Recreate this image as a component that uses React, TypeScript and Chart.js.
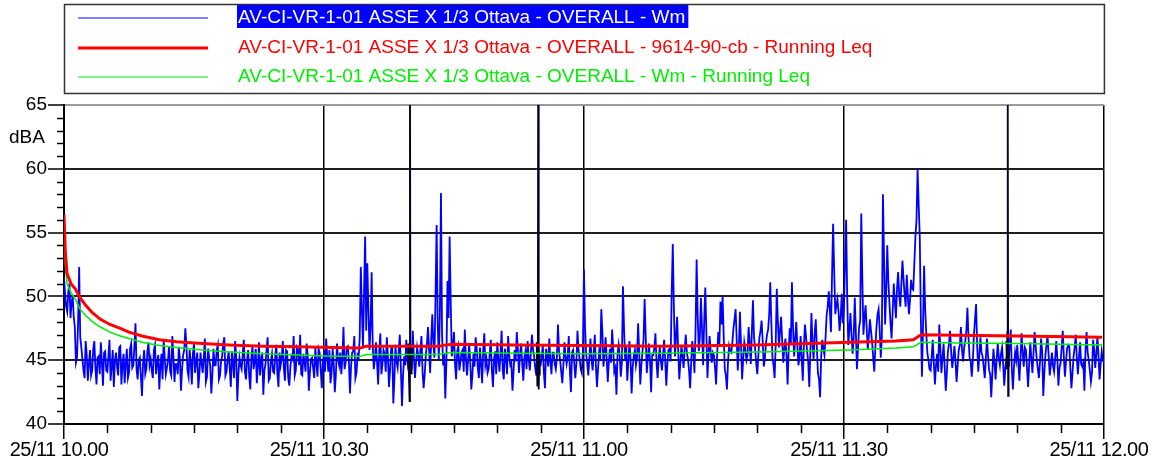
import React, { useEffect, useRef } from 'react';
import { Chart, registerables } from 'chart.js';

Chart.register(...registerables);

const FONT = '"Liberation Sans", Arial, Helvetica, sans-serif';

const seriesLabels = [
  'AV-CI-VR-1-01 ASSE X 1/3 Ottava - OVERALL - Wm',
  'AV-CI-VR-1-01 ASSE X 1/3 Ottava - OVERALL - 9614-90-cb - Running Leq',
  'AV-CI-VR-1-01 ASSE X 1/3 Ottava - OVERALL - Wm - Running Leq',
];
const seriesColors = ['#0000FF', '#FF0000', '#00EE00'];

const xTickLabels = ['25/11 10.00', '25/11 10.30', '25/11 11.00', '25/11 11.30', '25/11 12.00'];
const yUnit = 'dBA';

// Wm level, one value every 15 s (minutes 0..120)
const wmStepMinutes = 0.25;
const wmValues = [
  51.5, 49.2, 50.4, 48.3, 50.1, 47.6, 45.2, 52.3, 46.0, 44.2, 46.5, 43.4, 45.8, 44.2, 46.5, 43.1, 45.3, 46.4, 43.0, 45.7,
  44.1, 46.6, 44.5, 42.9, 45.6, 43.8, 46.1, 44.7, 43.2, 45.9, 44.0, 46.3, 44.6, 47.9, 43.5, 45.2, 42.2, 45.8, 44.3, 46.4,
  45.1, 43.6, 46.2, 44.8, 42.7, 45.5, 46.6, 43.9, 45.0, 44.1, 46.9, 43.3, 44.7, 46.0, 42.6, 45.4, 47.5, 44.2, 45.8, 43.1,
  46.3, 44.9, 42.8, 45.6, 44.0, 46.7, 43.7, 45.2, 42.4, 45.9, 44.6, 46.2, 43.8, 45.3, 46.8, 44.1, 45.7, 42.9, 44.8, 46.5,
  41.8, 45.2, 44.3, 46.6, 43.5, 45.8, 42.7, 46.1, 44.9, 43.2, 46.4, 45.0, 42.3, 44.7, 46.8, 43.6, 45.5, 44.0, 46.2, 42.9,
  44.6, 46.5, 43.4, 45.7, 43.0, 45.3, 46.9, 44.2, 45.8, 47.0, 43.8, 44.9, 46.3, 42.6, 45.1, 44.4, 46.0, 43.7, 45.6, 42.8,
  45.4, 46.7, 44.1, 43.2, 45.9, 42.5, 46.3, 44.6, 43.9, 47.6, 44.8, 46.1, 42.4, 45.6, 46.9, 44.0, 45.2, 52.3, 46.0, 54.7,
  52.6, 45.8, 51.9, 44.3, 46.4, 43.1, 47.1, 44.7, 45.5, 46.8, 42.9, 45.9, 41.6, 46.2, 44.4, 47.0, 41.4, 45.3, 46.6, 44.2,
  45.7, 47.3, 43.6, 46.0, 44.5, 46.9, 42.8, 45.4, 47.6, 44.0, 48.6, 45.2, 55.6, 45.1, 58.1, 44.6, 42.0, 51.2, 54.7, 45.3,
  47.2, 43.5, 46.1, 44.9, 45.8, 47.4, 43.8, 46.3, 42.7, 45.5, 46.8, 44.4, 46.0, 43.2, 47.1, 45.1, 44.3, 46.6, 42.9, 45.7,
  46.4, 44.1, 47.3, 43.5, 45.2, 46.9, 44.6, 42.6, 45.8, 47.2, 44.0, 46.3, 43.4, 45.7, 46.5, 44.2, 47.0, 45.3, 43.8, 45.9,
  44.6, 46.2, 42.8, 45.4, 46.7, 43.9, 45.6, 44.3, 47.8, 45.0, 43.2, 46.4, 44.7, 46.9, 42.5, 45.8, 43.6, 47.3, 45.1, 44.0,
  52.1, 45.5, 43.8, 46.7, 44.2, 47.0, 42.9, 45.6, 49.0, 44.5, 46.8, 43.3, 45.9, 47.4, 44.1, 42.3, 46.2, 43.7, 50.8, 45.0,
  43.4, 46.5, 42.4, 45.3, 44.6, 47.9, 43.1, 45.7, 49.8, 44.0, 46.3, 42.5, 45.4, 47.1, 43.6, 46.0, 44.2, 46.6, 43.0, 45.8,
  44.9, 54.1, 45.3, 48.4, 43.5, 46.2, 44.4, 47.0, 45.1, 42.8, 46.5, 44.0, 52.9, 45.7, 49.9, 44.6, 50.7, 43.6, 46.9, 44.8,
  45.4, 43.1, 47.2, 49.6, 50.0, 44.3, 42.7, 46.1, 45.6, 47.5, 49.0, 44.2, 48.8, 43.5, 46.4, 45.0, 47.6, 44.7, 49.7, 45.9,
  43.9, 46.8, 48.1, 44.5, 46.3, 47.4, 51.1, 45.2, 43.6, 50.6, 46.0, 48.4, 44.8, 46.7, 43.1, 47.5, 51.1, 45.3, 48.0, 44.6,
  46.9, 43.4, 47.8, 45.7, 42.9, 48.7, 45.1, 48.2, 44.0, 42.1, 46.6, 45.4, 48.5, 50.4, 47.2, 55.7, 48.6, 49.8, 47.3, 50.2,
  49.1, 56.0, 46.2, 48.7, 45.5, 49.9, 44.3, 47.6, 56.5, 47.0, 49.3, 45.8, 48.2, 46.4, 44.1, 47.5, 49.0, 45.2, 58.0, 47.8,
  54.0, 49.5, 46.7, 51.0, 48.3, 51.9, 49.2, 52.8, 50.1, 51.7, 48.6, 51.3, 50.5, 54.7, 60.0, 54.7, 43.7, 52.4, 47.1, 45.0,
  44.2, 46.6, 43.1, 45.5, 47.8, 44.0, 46.3, 42.6, 45.7, 47.3, 44.4, 46.1, 43.3, 45.8, 47.6, 44.9, 46.5, 49.1, 45.2, 43.7,
  47.0, 49.4, 44.1, 46.8, 45.3, 43.6, 46.7, 44.2, 42.1, 45.9, 43.5, 46.3, 44.6, 46.0, 43.0, 45.2, 44.9, 47.4, 42.7, 45.6,
  46.2, 43.4, 47.1, 44.5, 45.8, 42.9, 46.4, 44.0, 47.2, 45.1, 43.6, 46.7, 42.2, 45.4, 46.9, 43.8, 45.6, 44.1, 46.5, 43.0,
  44.8, 47.3, 43.7, 45.9, 46.1, 42.8, 45.3, 47.0, 43.9, 46.4, 44.5, 42.6, 47.2, 45.0, 43.3, 46.6, 44.4, 46.9, 43.5, 45.7,
  44.8,
];
// Wm level at the half-steps in between (7.5 s after each value above)
const wmValuesMid = [
  50.2, 48.8, 51.0, 49.5, 48.4, 44.8, 47.9, 46.8, 45.1, 43.6, 45.4, 44.7, 43.8, 45.9, 44.4, 45.2, 43.9, 44.8, 45.6, 44.2,
  45.3, 43.4, 45.8, 44.9, 44.5, 46.0, 43.1, 45.5, 44.7, 43.6, 45.9, 44.4, 46.1, 44.3, 45.0, 43.7, 44.8, 43.9, 45.7, 44.6,
  44.2, 45.8, 43.9, 45.4, 44.6, 43.5, 45.2, 44.4, 46.1, 43.8, 45.3, 44.7, 43.9, 45.1, 44.3, 45.8, 46.2, 43.7, 44.9, 45.5,
  44.0, 45.6, 43.9, 44.8, 45.1, 43.3, 45.9, 44.5, 43.9, 44.6, 45.8, 43.5, 44.9, 46.3, 43.8, 45.0, 44.4, 45.7, 43.6, 45.2,
  43.9, 44.6, 45.5, 44.1, 45.0, 43.7, 45.2, 44.3, 45.9, 44.5, 43.8, 45.6, 44.2, 45.8, 43.4, 44.9, 44.1, 45.3, 43.9, 45.6,
  45.2, 44.3, 45.8, 43.6, 44.5, 45.1, 43.8, 46.0, 44.6, 43.9, 45.5, 44.1, 45.4, 44.0, 45.2, 43.6, 44.8, 45.9, 44.2, 45.0,
  44.1, 45.3, 45.8, 44.0, 44.7, 43.9, 45.1, 45.6, 45.2, 44.3, 46.0, 44.9, 44.5, 45.7, 43.6, 45.4, 46.8, 48.9, 50.4, 47.3,
  49.1, 47.6, 46.2, 45.1, 44.8, 45.6, 43.9, 45.8, 44.1, 45.3, 44.2, 46.0, 43.5, 44.9, 45.7, 44.3, 43.8, 44.6, 45.0, 45.9,
  44.3, 45.2, 44.9, 45.4, 45.8, 44.1, 43.9, 46.2, 45.9, 46.6, 46.3, 50.2, 47.9, 48.6, 47.0, 45.5, 44.8, 48.3, 49.5, 46.0,
  44.6, 45.7, 44.2, 45.6, 44.1, 45.2, 44.9, 45.0, 43.8, 44.5, 45.9, 43.6, 44.7, 45.8, 44.6, 44.0, 45.5, 44.2, 45.1, 43.9,
  45.1, 45.6, 44.2, 45.9, 43.9, 45.4, 44.8, 44.1, 44.9, 45.8, 45.5, 44.7, 45.2, 44.3, 45.1, 45.6, 45.8, 44.4, 45.7, 44.6,
  45.3, 44.0, 45.9, 44.5, 44.9, 45.6, 44.7, 45.2, 45.7, 44.1, 44.6, 45.3, 45.3, 44.2, 45.6, 44.8, 44.7, 45.8, 44.3, 45.6,
  47.6, 44.8, 45.2, 45.1, 45.6, 44.6, 44.3, 45.0, 47.2, 45.5, 45.1, 44.9, 44.8, 45.9, 44.4, 45.5, 45.3, 44.8, 47.5, 46.1,
  44.9, 45.1, 44.5, 45.8, 45.2, 45.6, 44.6, 46.6, 46.9, 45.2, 44.9, 45.4, 46.0, 44.8, 45.2, 44.9, 45.4, 45.0, 44.7, 45.9,
  50.3, 49.2, 46.8, 45.7, 44.8, 45.3, 45.9, 45.6, 44.2, 44.9, 45.6, 47.2, 48.5, 46.8, 47.4, 48.1, 47.2, 45.4, 45.7, 45.6,
  44.4, 45.6, 46.1, 47.8, 46.9, 43.8, 44.9, 45.7, 46.4, 48.2, 46.6, 45.9, 46.2, 45.1, 45.8, 45.4, 46.3, 47.2, 46.8, 44.8,
  45.4, 47.3, 46.5, 45.1, 47.0, 48.6, 47.9, 44.6, 46.2, 48.1, 47.3, 46.5, 45.9, 45.4, 45.8, 46.2, 47.6, 46.7, 46.1, 45.3,
  45.2, 46.0, 46.9, 44.9, 45.6, 46.3, 47.1, 46.0, 43.5, 45.3, 45.9, 46.7, 49.2, 48.9, 51.6, 52.0, 49.3, 48.8, 48.4, 47.9,
  52.4, 50.1, 47.4, 47.0, 46.8, 47.2, 45.9, 48.1, 51.3, 48.4, 47.5, 46.9, 47.3, 45.2, 46.0, 48.6, 47.4, 46.8, 53.1, 50.4,
  51.2, 47.9, 48.8, 49.6, 50.6, 50.2, 50.9, 51.4, 49.2, 50.0, 49.7, 50.6, 52.6, 56.0, 57.2, 48.3, 47.6, 49.0, 45.6, 44.3,
  45.3, 44.8, 44.6, 44.1, 45.9, 45.2, 44.5, 44.0, 46.3, 45.6, 45.2, 44.9, 44.6, 46.2, 45.8, 46.0, 47.3, 46.8, 44.9, 45.0,
  48.2, 46.1, 45.4, 45.6, 44.5, 45.1, 45.4, 43.9, 44.0, 44.8, 45.1, 45.2, 45.5, 44.7, 44.4, 45.3, 46.1, 44.3, 44.5, 45.0,
  44.8, 45.2, 45.6, 46.0, 44.4, 44.7, 45.2, 45.5, 46.1, 44.3, 44.9, 45.7, 44.0, 46.2, 45.3, 44.6, 44.6, 45.1, 45.2, 44.4,
  46.0, 45.3, 44.9, 46.2, 44.4, 44.0, 46.0, 45.1, 45.3, 44.7, 44.8, 45.8, 45.6, 44.2, 44.0, 45.8, 45.5, 45.3, 44.7, 45.0,
];

// Running Leq curves (minutes, dBA)
const leqTimes = [0, 0.15, 0.35, 0.8, 1.3, 1.85, 2.5, 3.3, 4.2, 5.3, 6.5, 7.5, 9, 11, 13, 15, 19, 23, 27, 31, 34.2, 34.9, 43.3, 44.0, 45.0, 52, 60, 69, 80, 90.7, 96, 98.0, 98.9, 103, 110, 119.8];
const leq9614Values = [56.4, 53.5, 51.8, 51.0, 50.6, 49.9, 49.3, 48.7, 48.2, 47.8, 47.5, 47.2, 46.9, 46.6, 46.45, 46.35, 46.2, 46.1, 46.05, 46.0, 45.95, 46.1, 46.1, 46.2, 46.25, 46.2, 46.15, 46.1, 46.2, 46.4, 46.5, 46.6, 47.0, 46.95, 46.9, 46.8];
const leqWmValues = [55.0, 52.5, 51.0, 50.3, 49.8, 49.0, 48.5, 48.0, 47.6, 47.2, 46.9, 46.7, 46.4, 46.15, 46.0, 45.85, 45.65, 45.5, 45.4, 45.3, 45.3, 45.45, 45.45, 45.55, 45.6, 45.55, 45.5, 45.55, 45.65, 45.8, 45.95, 46.05, 46.4, 46.35, 46.3, 46.2];

// Marked events (dark spikes), null = gap
const markerTimes = [39.7, 39.8, 39.88, 39.92, 39.98, 40.05, 40.12, 40.2, 54.55, 54.62, 54.68, 54.72, 54.78, 54.85, 54.9, 55.0, 108.75, 108.8, 108.85, 108.9, 108.95, 109.0, 109.05];
const markerValues = [46.3, 43.8, 41.8, 70, 44.5, 46.0, 43.9, null, 46.4, 43.0, 47.0, 70, 42.7, 45.5, 43.8, null, 46.5, 44.3, 47.2, 70, 42.2, 45.8, 44.5];

const xMinorStep = 5;
const yMinorStep = 1;

function wmPoints() {
  const pts: { x: number; y: number }[] = [];
  wmValues.forEach((v, i) => {
    pts.push({ x: i * wmStepMinutes, y: v });
    if (i < wmValuesMid.length) pts.push({ x: i * wmStepMinutes + wmStepMinutes / 2, y: wmValuesMid[i] });
  });
  return pts;
}

const boxLegendPlugin = {
  id: 'boxLegend',
  afterDraw(chart: any) {
    const ctx = chart.ctx as CanvasRenderingContext2D;
    const { left, right } = chart.chartArea;
    ctx.save();
    (ctx as any).letterSpacing = '0px';
    ctx.strokeStyle = '#333';
    ctx.lineWidth = 1.5;
    ctx.strokeRect(left + 0.5, 4.5, right - left, 89);
    const rowLine = [18, 48, 77];
    const rowBase = [22.5, 52.5, 81.5];
    ctx.font = `19px ${FONT}`;
    ctx.textBaseline = 'alphabetic';
    ctx.textAlign = 'left';
    chart.data.datasets.slice(0, 3).forEach((ds: any, i: number) => {
      ctx.strokeStyle = ds.borderColor;
      ctx.lineWidth = i === 1 ? 3 : 1.2;
      ctx.beginPath();
      ctx.moveTo(78, rowLine[i]);
      ctx.lineTo(208, rowLine[i]);
      ctx.stroke();
      if (i === 0) {
        const w = ctx.measureText(ds.label).width;
        ctx.fillStyle = '#0000FF';
        ctx.fillRect(237, 5, w + 4, 23);
        ctx.fillStyle = '#FFFFFF';
      } else {
        ctx.fillStyle = ds.borderColor;
      }
      ctx.fillText(ds.label, 238, rowBase[i]);
    });
    ctx.restore();
  },
};

// condensed spacing for the time labels (drawn before datasets), normal afterwards
const spacingPlugin = {
  id: 'labelSpacing',
  beforeDraw(chart: any) {
    (chart.ctx as any).letterSpacing = '-0.5px';
  },
  beforeDatasetsDraw(chart: any) {
    (chart.ctx as any).letterSpacing = '0px';
  },
};

const axisExtrasPlugin = {
  id: 'axisExtras',
  afterDraw(chart: any) {
    const ctx = chart.ctx as CanvasRenderingContext2D;
    const xs = chart.scales.x;
    const ys = chart.scales.y;
    const { left, bottom } = chart.chartArea;
    ctx.save();
    (ctx as any).letterSpacing = '0px';
    ctx.strokeStyle = '#000';
    ctx.lineWidth = 1.5;
    for (let v = xs.min; v <= xs.max; v += xMinorStep) {
      if (v % 30 === 0) continue;
      const px = Math.round(xs.getPixelForValue(v)) + 0.5;
      ctx.beginPath();
      ctx.moveTo(px, bottom);
      ctx.lineTo(px, bottom + 9);
      ctx.stroke();
    }
    for (let v = ys.min; v <= ys.max; v += yMinorStep) {
      if (v % 5 === 0) continue;
      const py = Math.round(ys.getPixelForValue(v)) + 0.5;
      ctx.beginPath();
      ctx.moveTo(left - 7, py);
      ctx.lineTo(left, py);
      ctx.stroke();
    }
    ctx.fillStyle = '#000';
    ctx.font = `19px ${FONT}`;
    ctx.textAlign = 'left';
    ctx.textBaseline = 'alphabetic';
    ctx.fillText(yUnit, 9, ys.getPixelForValue(62));
    ctx.restore();
  },
};

export default function App() {
  const canvasRef = useRef<HTMLCanvasElement | null>(null);

  useEffect(() => {
    if (!canvasRef.current) return;
    const chart = new Chart(canvasRef.current, {
      type: 'line',
      data: {
        datasets: [
          {
            label: seriesLabels[0],
            data: wmPoints(),
            borderColor: seriesColors[0],
            borderWidth: 1.8,
            pointRadius: 0,
            tension: 0,
            order: 3,
          },
          {
            label: seriesLabels[1],
            data: leqTimes.map((t, i) => ({ x: t, y: leq9614Values[i] })),
            borderColor: seriesColors[1],
            borderWidth: 3,
            pointRadius: 0,
            tension: 0,
            order: 0,
          },
          {
            label: seriesLabels[2],
            data: leqTimes.map((t, i) => ({ x: t, y: leqWmValues[i] })),
            borderColor: seriesColors[2],
            borderWidth: 1.5,
            pointRadius: 0,
            tension: 0,
            order: 1,
          },
          {
            label: 'markers',
            data: markerTimes.map((t, i) => ({ x: t, y: markerValues[i] })),
            borderColor: '#00002e',
            borderWidth: 1.8,
            pointRadius: 0,
            tension: 0,
            spanGaps: false,
            order: 2,
          },
        ] as any,
      },
      options: {
        animation: false,
        responsive: false,
        devicePixelRatio: 1,
        layout: { padding: { top: 105, right: 51, left: 0, bottom: 0 } },
        plugins: {
          legend: { display: false },
          tooltip: { enabled: false },
        },
        scales: {
          x: {
            type: 'linear',
            min: 0,
            max: 120,
            afterFit: (s: any) => {
              s.height = 41;
            },
            ticks: {
              stepSize: 30,
              autoSkip: false,
              maxRotation: 0,
              minRotation: 0,
              padding: -1,
              labelOffset: -5,
              color: '#000',
              font: { family: FONT, size: 20 },
              callback: (v: any) => xTickLabels[Math.round(Number(v) / 30)] ?? '',
            },
            grid: {
              color: '#000',
              lineWidth: 1.5,
              tickLength: 15,
              tickColor: '#000',
              tickWidth: 1.5,
            },
            border: { display: true, color: '#000', width: 2 },
          },
          y: {
            type: 'linear',
            min: 40,
            max: 65,
            afterFit: (s: any) => {
              s.width = 64;
            },
            ticks: {
              stepSize: 5,
              padding: 1,
              z: 1,
              color: '#000',
              font: { family: FONT, size: 19 },
            },
            grid: {
              color: (c: any) => (c.tick && c.tick.value === 65 ? '#9a9a9a' : '#1e1e1e'),
              lineWidth: 2,
              tickLength: 16,
              tickColor: '#000',
              tickWidth: 1.5,
            },
            border: { display: true, color: '#000', width: 2 },
          },
        },
      } as any,
      plugins: [spacingPlugin, axisExtrasPlugin, boxLegendPlugin],
    });
    return () => chart.destroy();
  }, []);

  return (
    <div style={{ position: 'fixed', left: 0, top: 0, width: 1155, height: 465, background: '#fff' }}>
      <canvas ref={canvasRef} width={1155} height={465} style={{ display: 'block' }} />
    </div>
  );
}
